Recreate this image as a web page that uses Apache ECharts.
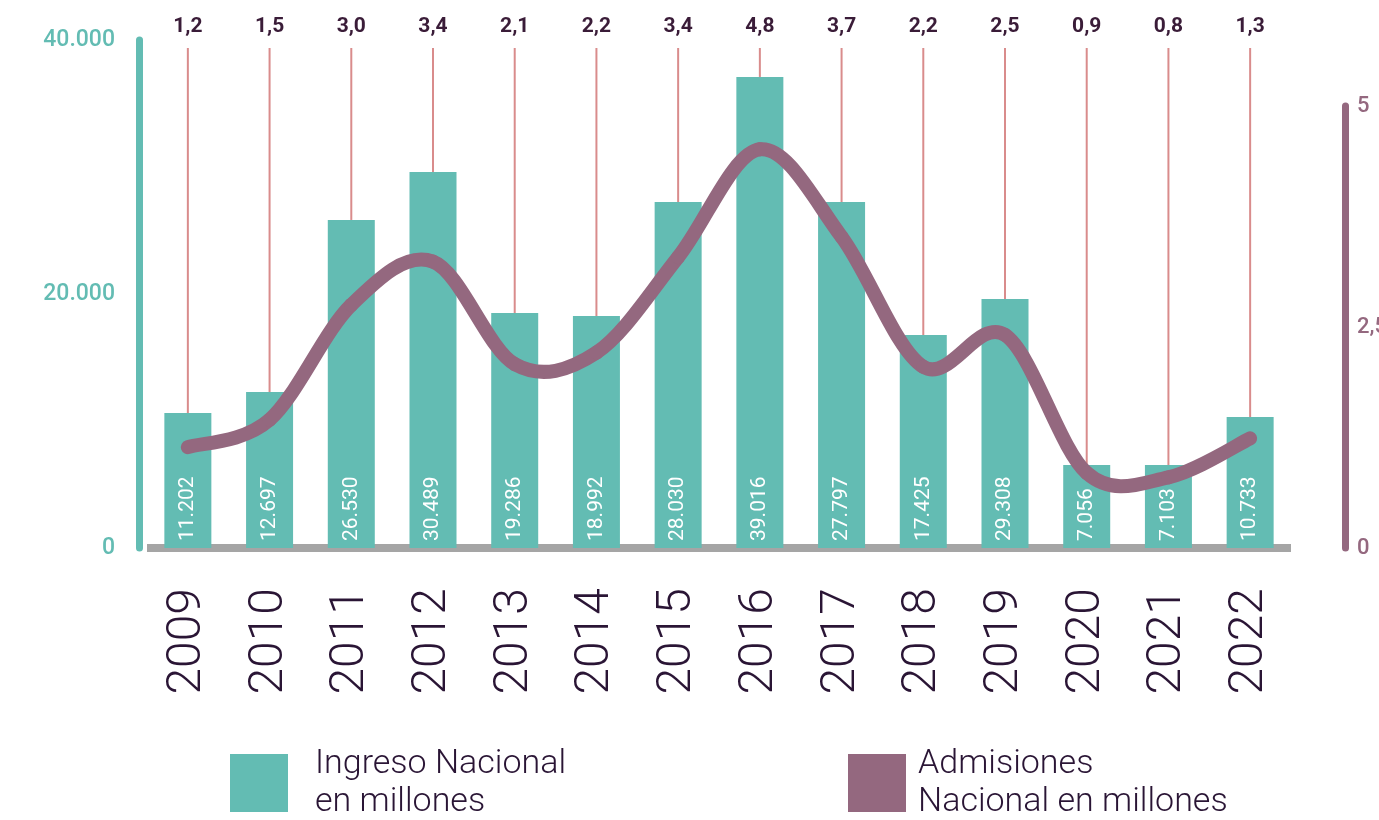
<!DOCTYPE html>
<html>
<head>
<meta charset="utf-8">
<script src="https://cdn.jsdelivr.net/npm/echarts@6/dist/echarts.min.js"></script>
<style>
  html, body { margin: 0; padding: 0; background: #fff; }
  #chart { width: 1379px; height: 820px; }
</style>
</head>
<body>
<div id="chart"></div>
<script>
// años
const years = ['2009', '2010', '2011', '2012', '2013', '2014', '2015', '2016', '2017', '2018', '2019', '2020', '2021', '2022']
// altura de las barras tal como se ven (eje izquierdo)
const ingreso = [10630, 12280, 25830, 29610, 18500, 18270, 27240, 37090, 27240, 16770, 19610, 6540, 6540, 10320]
// texto impreso dentro de cada barra
const ingresoLabels = ['11.202', '12.697', '26.530', '30.489', '19.286', '18.992', '28.030', '39.016', '27.797', '17.425', '29.308', '7.056', '7.103', '10.733']
// curva de admisiones (eje derecho)
const admisiones = [1.14, 1.45, 2.75, 3.24, 2.08, 2.21, 3.29, 4.51, 3.52, 2.05, 2.41, 0.85, 0.80, 1.24]
// valores impresos arriba
const admisionesLabels = [1.2, 1.5, 3.0, 3.4, 2.1, 2.2, 3.4, 4.8, 3.7, 2.2, 2.5, 0.9, 0.8, 1.3]

const teal = '#63bcb3'
const purple = '#94687f'
const dark = '#2a1535'

const chart = echarts.init(document.getElementById('chart'))

// curva suave (catmull-rom) tramo a tramo, usando las coordenadas del eje
function renderCurve(params, api) {
    const i = api.value(0)
    const n = admisiones.length
    if (i >= n - 1) return null
    const pt = k => {
        const j = Math.max(0, Math.min(n - 1, k))
        return api.coord([j, admisiones[j]])
    }
    const p0 = pt(i - 1), p1 = pt(i), p2 = pt(i + 1), p3 = pt(i + 2)
    const t = 6
    return {
        type: 'bezierCurve',
        shape: {
            x1: p1[0], y1: p1[1],
            x2: p2[0], y2: p2[1],
            cpx1: p1[0] + (p2[0] - p0[0]) / t,
            cpy1: p1[1] + (p2[1] - p0[1]) / t,
            cpx2: p2[0] - (p3[0] - p1[0]) / t,
            cpy2: p2[1] - (p3[1] - p1[1]) / t
        },
        style: { stroke: purple, lineWidth: 14, lineCap: 'round', fill: null }
    }
}

const option = {
    backgroundColor: '#fff',
    animation: false,
    textStyle: { fontFamily: 'Roboto' },
    grid: [
        { left: 147, right: 88, top: 40, bottom: 272, outerBoundsMode: 'none' },
        { left: 147, right: 88, top: 106, bottom: 272, outerBoundsMode: 'none' },
        // solo para colocar el eje derecho
        { left: 1344, right: 34, top: 106, bottom: 272, outerBoundsMode: 'none' }
    ],
    xAxis: [
        {
            type: 'category',
            gridIndex: 0,
            data: years,
            offset: 4,
            axisLine: { lineStyle: { color: '#a5a5a5', width: 8, cap: 'butt' } },
            axisTick: { show: false },
            axisLabel: {
                rotate: 90,
                margin: 36,
                fontSize: 48,
                fontWeight: 300,
                color: dark
            }
        },
        { type: 'category', gridIndex: 1, data: years, show: false },
        { type: 'category', gridIndex: 2, data: years, show: false }
    ],
    yAxis: [
        {
            type: 'value',
            gridIndex: 0,
            min: 0,
            max: 40000,
            interval: 20000,
            position: 'left',
            offset: 8,
            splitLine: { show: false },
            axisLine: { show: true, lineStyle: { color: teal, width: 7, cap: 'round' } },
            axisTick: { show: false },
            axisLabel: {
                margin: 24,
                fontSize: 23,
                fontWeight: 500,
                color: teal,
                formatter: v => v === 0 ? '0' : v.toLocaleString('de-DE')
            }
        },
        {
            type: 'value',
            gridIndex: 1,
            min: 0,
            max: 5,
            show: false,
            splitLine: { show: false }
        },
        {
            type: 'value',
            gridIndex: 2,
            min: 0,
            max: 5,
            interval: 2.5,
            position: 'right',
            splitLine: { show: false },
            axisLine: { show: true, lineStyle: { color: purple, width: 7, cap: 'round' } },
            axisTick: { show: false },
            axisLabel: {
                margin: 12,
                fontSize: 22,
                fontWeight: 500,
                color: purple,
                formatter: v => String(v).replace('.', ',')
            }
        }
    ],
    legend: [
        {
            data: ['Ingreso Nacional en millones'],
            left: 230,
            top: 745,
            padding: 0,
            icon: 'rect',
            itemWidth: 58,
            itemHeight: 58,
            formatter: () => 'Ingreso Nacional\nen millones',
            textStyle: { fontSize: 34, fontWeight: 300, color: dark, lineHeight: 38, padding: [0, 0, 0, 22] }
        },
        {
            data: ['Admisiones Nacional en millones'],
            left: 848,
            top: 745,
            padding: 0,
            icon: 'rect',
            itemWidth: 58,
            itemHeight: 58,
            formatter: () => 'Admisiones\nNacional en millones',
            textStyle: { fontSize: 34, fontWeight: 300, color: dark, lineHeight: 38, padding: [0, 0, 0, 7] }
        }
    ],
    series: [
        {
            // líneas finas desde la barra hasta el valor de arriba
            type: 'custom',
            xAxisIndex: 0,
            yAxisIndex: 0,
            clip: false,
            silent: true,
            z: 1,
            data: ingreso.map((v, i) => [i, v, admisionesLabels[i]]),
            renderItem: function (params, api) {
                const p = api.coord([api.value(0), api.value(1)])
                const top = params.coordSys.y
                return {
                    type: 'group',
                    children: [
                        {
                            type: 'line',
                            shape: { x1: p[0], y1: top + 8, x2: p[0], y2: p[1] },
                            style: { stroke: '#d98c8c', lineWidth: 2 }
                        },
                        {
                            type: 'text',
                            style: {
                                x: p[0],
                                y: top - 13,
                                text: api.value(2).toFixed(1).replace('.', ','),
                                align: 'center',
                                verticalAlign: 'middle',
                                fill: '#3a1c38',
                                font: 'bold 21px Roboto'
                            }
                        }
                    ]
                }
            }
        },
        {
            name: 'Ingreso Nacional en millones',
            type: 'bar',
            xAxisIndex: 0,
            yAxisIndex: 0,
            barWidth: 47,
            z: 2,
            itemStyle: { color: teal },
            label: {
                show: true,
                position: 'insideBottom',
                rotate: 90,
                align: 'left',
                verticalAlign: 'middle',
                distance: 7,
                color: '#fff',
                fontSize: 21,
                formatter: p => ingresoLabels[p.dataIndex]
            },
            data: ingreso
        },
        {
            name: 'Admisiones Nacional en millones',
            type: 'custom',
            xAxisIndex: 1,
            yAxisIndex: 1,
            clip: false,
            z: 5,
            itemStyle: { color: purple },
            renderItem: renderCurve,
            data: admisiones.map((v, i) => [i, v])
        }
    ]
}

chart.setOption(option)
</script>
</body>
</html>
